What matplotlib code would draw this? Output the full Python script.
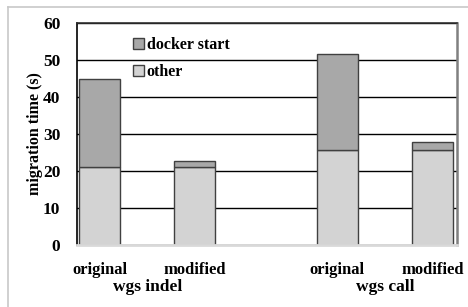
import numpy as np
import matplotlib.pyplot as plt
from matplotlib.lines import Line2D

# data
groups = ["wgs indel", "wgs call"]
variants = ["original", "modified", "original", "modified"]
other = [21.0, 21.0, 25.7, 25.7]
docker_start = [23.8, 1.8, 25.9, 2.1]
positions = [0, 1, 2.5, 3.5]

plt.rcParams["font.family"] = ["Liberation Serif", "DejaVu Serif"]
plt.rcParams["font.weight"] = "bold"

fig = plt.figure(figsize=(4.68, 3.07), dpi=100)
ax = fig.add_axes([0.1645, 0.202, 0.812, 0.723])

ax.set_ylim(0, 60)
ax.set_xlim(-0.24, 3.76)
ax.set_yticks(np.arange(0, 61, 10))
ax.yaxis.grid(True, color="black", linewidth=1.0)
ax.set_axisbelow(True)

ax.bar(positions, other, width=0.43, color="#d3d3d3", edgecolor="#404040",
       linewidth=1.0, label="other", zorder=2)
ax.bar(positions, docker_start, width=0.43, bottom=other, color="#a8a8a8",
       edgecolor="#404040", linewidth=1.0, label="docker start", zorder=2)

ax.set_xticks(positions)
ax.set_xticklabels(variants, fontsize=12, fontweight="bold")
ax.tick_params(axis="x", length=0, pad=12)
ax.tick_params(axis="y", length=0, labelsize=12.5, pad=12)
for lab in ax.get_yticklabels():
    lab.set_fontweight("bold")

ax.set_ylabel("migration time (s)", fontsize=11.5, fontweight="bold", labelpad=0)

group_centers = [np.mean(positions[:2]), np.mean(positions[2:])]
for g, c in zip(groups, group_centers):
    ax.text(c, -0.155, g, transform=ax.get_xaxis_transform(), ha="center",
            va="top", fontsize=12.5, fontweight="bold")

ax.spines["left"].set_color("black")
ax.spines["left"].set_linewidth(1.2)
ax.spines["top"].set_color("#303030")
ax.spines["top"].set_linewidth(1.2)
ax.spines["right"].set_color("#808080")
ax.spines["right"].set_linewidth(1.8)
ax.spines["bottom"].set_color("#d9d9d9")
ax.spines["bottom"].set_linewidth(2.0)

handles, labels = ax.get_legend_handles_labels()
leg = ax.legend(handles[::-1], labels[::-1], loc="upper left",
                bbox_to_anchor=(0.11, 1.0), frameon=False,
                handlelength=0.7, handleheight=0.7, handletextpad=0.15,
                labelspacing=0.65, prop={"weight": "bold", "size": 11.5})

# outer chart border (partly cropped)
fig.add_artist(Line2D([8 / 468, 1], [1 - 7 / 307, 1 - 7 / 307],
                      transform=fig.transFigure, color="#c8c8c8", linewidth=1.2))
fig.add_artist(Line2D([8 / 468, 8 / 468], [0, 1 - 7 / 307],
                      transform=fig.transFigure, color="#c8c8c8", linewidth=1.2))

fig.savefig("out.png", dpi=100)
